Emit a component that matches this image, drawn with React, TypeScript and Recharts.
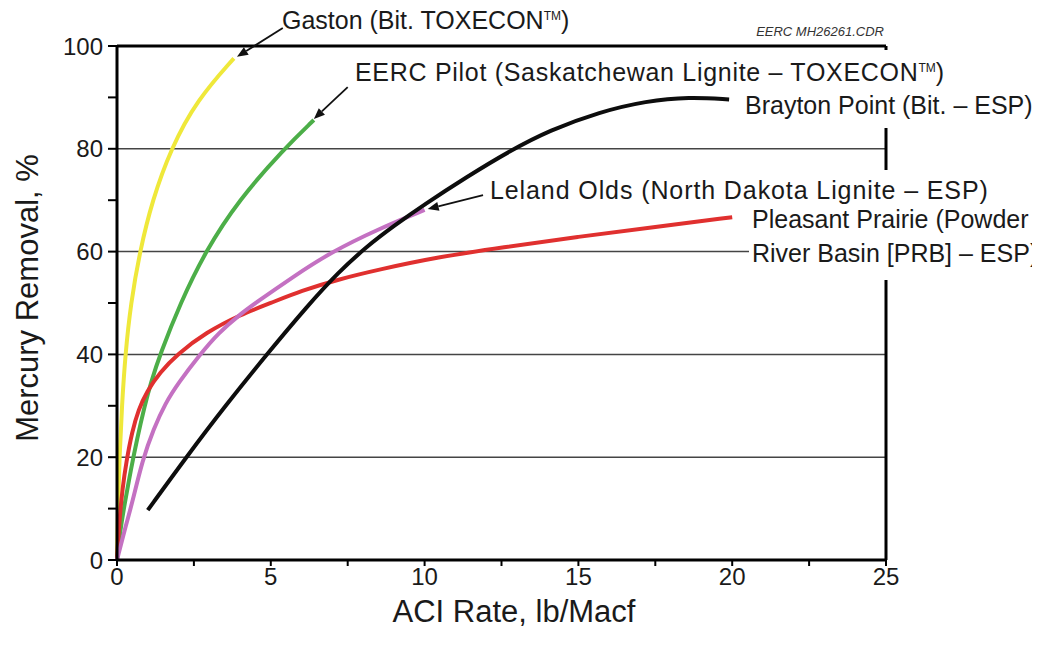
import React from 'react';
import { LineChart, Line, XAxis, YAxis, ReferenceLine } from 'recharts';

// ACI rate (lb/Macf) and mercury removal (%)
const gastonRate = [0, 0.03, 0.08, 0.16, 0.27, 0.45, 0.74, 1.15, 1.75, 2.6, 3.8];
const gastonRemoval = [0, 10, 20, 30, 40, 50, 60, 70, 80, 89.5, 97.6];

const eercRate = [0, 0.1, 0.25, 0.45, 0.65, 0.9, 1.1, 1.4, 2.06, 2.87, 3.95, 5.43, 6.4];
const eercRemoval = [0, 5.5, 11, 17.5, 23.5, 30, 34.5, 40, 50, 60, 70, 80, 85.6];

const braytonRate = [1, 2.25, 3.52, 4.87, 6.2, 7.2, 8.12, 9, 10, 11.36, 12.77, 14.06, 15.7, 17.2, 18.6, 19.9];
const braytonRemoval = [9.7, 20, 30, 40, 49.5, 56, 61, 65, 69.2, 74.5, 79.6, 83.6, 87.2, 89.3, 90.1, 89.6];

const lelandRate = [0, 0.3, 0.49, 0.83, 1.19, 1.57, 2, 2.7, 3.3, 4, 4.55, 5.7, 6.93, 8.5, 10];
const lelandRemoval = [0, 7, 11, 19.5, 25.5, 30.5, 34.5, 40, 44.2, 47.8, 50.2, 55, 59.8, 64.4, 68.1];

const prairieRate = [0, 0.08, 0.18, 0.3, 0.49, 0.7, 0.97, 1.4, 1.95, 2.9, 4, 5, 6, 7.14, 8.5, 10.5, 12.5, 15, 17.5, 20];
const prairieRemoval = [0, 8, 14, 19, 25, 29.3, 32.8, 36.5, 40, 44.3, 47.7, 50, 52.4, 54.5, 56.5, 59, 60.8, 62.9, 64.8, 66.7];

const xTicks = [0, 2.5, 5, 7.5, 10, 12.5, 15, 17.5, 20, 22.5, 25];
const yTicks = [0, 10, 20, 30, 40, 50, 60, 70, 80, 90, 100];
const gridValues = [20, 40, 60, 80];

const zip = (xs: number[], ys: number[]) => xs.map((x, i) => ({ x, y: ys[i] }));

const gastonData = zip(gastonRate, gastonRemoval);
const eercData = zip(eercRate, eercRemoval);
const braytonData = zip(braytonRate, braytonRemoval);
const lelandData = zip(lelandRate, lelandRemoval);
const prairieData = zip(prairieRate, prairieRemoval);

// arrows pointing from label to curve end (data coords)
const gastonArrow = [{ x: 5.39, y: 103.5 }, { x: 3.9, y: 97.9 }];
const eercArrow = [{ x: 7.5, y: 92 }, { x: 6.4, y: 85.8 }];
const lelandArrow = [{ x: 11.9, y: 71 }, { x: 10.1, y: 68.3 }];

const FONT = '"Liberation Sans", Arial, Helvetica, sans-serif';

const ArrowLine = (props: any) => {
  const { x1, y1, x2, y2 } = props;
  const ang = Math.atan2(y2 - y1, x2 - x1);
  const len = 11;
  const w = 4.5;
  const bx = x2 - len * Math.cos(ang);
  const by = y2 - len * Math.sin(ang);
  const px = -Math.sin(ang) * w;
  const py = Math.cos(ang) * w;
  return (
    <g>
      <line x1={x1} y1={y1} x2={bx} y2={by} stroke="#111" strokeWidth={1.8} />
      <polygon points={`${x2},${y2} ${bx + px},${by + py} ${bx - px},${by - py}`} fill="#111" />
    </g>
  );
};

const xTickFmt = (v: number) => (v % 5 === 0 ? String(v) : '');
const yTickFmt = (v: number) => (v % 20 === 0 ? String(v) : '');

const labelStyle: React.CSSProperties = {
  position: 'absolute',
  fontFamily: FONT,
  fontSize: 25,
  lineHeight: '29px',
  color: '#1a1a1a',
  background: '#fff',
  whiteSpace: 'nowrap',
  padding: '4px 3px',
};

const Tm = () => (
  <span style={{ fontSize: 12, verticalAlign: '9px', lineHeight: 0, letterSpacing: 0 }}>TM</span>
);

export default function App() {
  return (
    <div style={{ position: 'relative', width: 1032, height: 637, fontFamily: FONT }}>
      <LineChart
        width={1032}
        height={637}
        margin={{ top: 38, right: 154, bottom: 45, left: 49 }}
      >
        <XAxis
          type="number"
          dataKey="x"
          domain={[0, 25]}
          ticks={xTicks}
          tickFormatter={xTickFmt}
          allowDuplicatedCategory={false}
          axisLine={{ stroke: '#000', strokeWidth: 3 }}
          tickLine={{ stroke: '#000', strokeWidth: 2 }}
          tickSize={6}
          tickMargin={2}
          tick={{ fill: '#1a1a1a', fontSize: 24, fontFamily: FONT }}
          height={40}
        />
        <YAxis
          type="number"
          domain={[0, 100]}
          ticks={yTicks}
          tickFormatter={yTickFmt}
          axisLine={{ stroke: '#000', strokeWidth: 3 }}
          tickLine={{ stroke: '#000', strokeWidth: 2 }}
          tickSize={9}
          tickMargin={5}
          tick={{ fill: '#1a1a1a', fontSize: 24, fontFamily: FONT }}
          width={60}
        />
        {gridValues.map((v) => (
          <ReferenceLine key={v} y={v} stroke="#444" strokeWidth={1.5} />
        ))}
        <ReferenceLine y={100} stroke="#000" strokeWidth={3} />
        <ReferenceLine x={25} stroke="#000" strokeWidth={3} />

        <Line data={gastonData} dataKey="y" type="basis" stroke="#efe83a" strokeWidth={4} dot={false} isAnimationActive={false} />
        <Line data={eercData} dataKey="y" type="basis" stroke="#4cae48" strokeWidth={4} dot={false} isAnimationActive={false} />
        <Line data={prairieData} dataKey="y" type="basis" stroke="#e0302f" strokeWidth={4} dot={false} isAnimationActive={false} />
        <Line data={lelandData} dataKey="y" type="basis" stroke="#c471c2" strokeWidth={4} dot={false} isAnimationActive={false} />
        <Line data={braytonData} dataKey="y" type="basis" stroke="#0d0d0d" strokeWidth={4} dot={false} isAnimationActive={false} />

        <ReferenceLine segment={gastonArrow} ifOverflow="visible" shape={ArrowLine} />
        <ReferenceLine segment={eercArrow} ifOverflow="visible" shape={ArrowLine} />
        <ReferenceLine segment={lelandArrow} ifOverflow="visible" shape={ArrowLine} />
      </LineChart>

      {/* curve labels */}
      <div style={{ ...labelStyle, left: 271, top: -6, background: 'transparent' }}>
        Gaston (Bit. TOXECON<Tm />)
      </div>
      <div
        style={{
          position: 'absolute',
          right: 1032 - 876,
          top: 16,
          fontFamily: FONT,
          fontSize: 13,
          fontStyle: 'italic',
          color: '#333',
        }}
      >
        EERC MH26261.CDR
      </div>
      <div style={{ ...labelStyle, left: 344, top: 42, padding: '8px 3px 4px 3px', letterSpacing: 0.7 }}>
        EERC Pilot (Saskatchewan Lignite – TOXECON<Tm />)
      </div>
      <div style={{ ...labelStyle, left: 734, top: 79, padding: '4px 3px 8px 3px' }}>
        Brayton Point (Bit. – ESP)
      </div>
      <div style={{ ...labelStyle, left: 741, top: 194, padding: '0px 3px 10px 3px', lineHeight: '34px' }}>
        Pleasant Prairie (Powder
        <br />
        River Basin [PRB] – ESP)
      </div>
      <div style={{ ...labelStyle, left: 479, top: 162, padding: '6px 3px 0px 3px', letterSpacing: 0.9 }}>
        Leland Olds (North Dakota Lignite – ESP)
      </div>

      {/* axis titles */}
      <div
        style={{
          position: 'absolute',
          left: 0,
          width: 1012,
          top: 586,
          textAlign: 'center',
          fontSize: 31,
          color: '#1a1a1a',
        }}
      >
        ACI Rate, lb/Macf
      </div>
      <div
        style={{
          position: 'absolute',
          left: 20,
          top: 290,
          transform: 'translate(-50%, -50%) rotate(-90deg)',
          fontSize: 31,
          color: '#1a1a1a',
          whiteSpace: 'nowrap',
        }}
      >
        Mercury Removal, %
      </div>
    </div>
  );
}
